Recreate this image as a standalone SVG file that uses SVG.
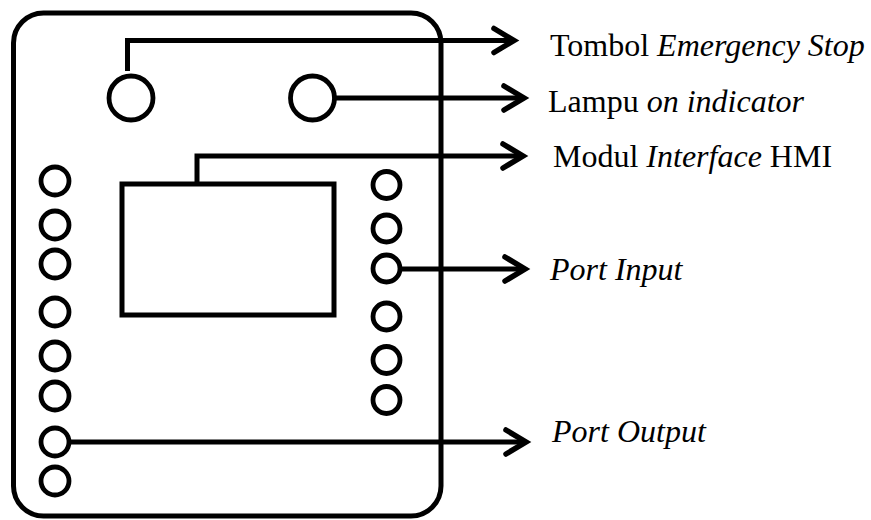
<svg xmlns="http://www.w3.org/2000/svg" width="871" height="520" viewBox="0 0 871 520">
  <style>
    .ink { fill: none; stroke: #000; stroke-width: 5; }
    .pin { fill: #fff; stroke: #000; stroke-width: 4.8; }
    .wire { fill: none; stroke: #000; stroke-width: 5; marker-end: url(#chev); }
    .lbl { font-family: "Liberation Serif", "Times New Roman", Tinos, "DejaVu Serif", "Noto Serif", serif; font-size: 32px; fill: #000; }
    .it { font-style: italic; }
  </style>
  <defs>
    <marker id="chev" markerUnits="userSpaceOnUse" markerWidth="40" markerHeight="40" viewBox="-30 -20 40 40" refX="0" refY="0" orient="auto" overflow="visible">
      <path d="M-20,-12 L0,0 L-20,12" fill="none" stroke="#000" stroke-width="5.5" stroke-linecap="round" stroke-linejoin="miter"/>
    </marker>
  </defs>
  <rect width="871" height="520" fill="#fff"/>

  <!-- panel body -->
  <g id="panel">
    <rect class="ink" x="13.5" y="13" width="427.5" height="503" rx="30" ry="30"/>
  </g>

  <!-- connectors -->
  <g id="connectors">
    <path class="wire" d="M127.5,71 V40.5 H514"/>
    <path class="wire" d="M334,98 H524"/>
    <path class="wire" d="M197,184 V156 H523"/>
    <path class="wire" d="M400,269 H525"/>
    <path class="wire" d="M69,442 H526"/>
  </g>

  <g id="emergency-stop">
    <circle class="pin" cx="131" cy="98" r="22"/>
  </g>
  <g id="indicator-lamp">
    <circle class="pin" cx="312.5" cy="98" r="22"/>
  </g>
  <g id="hmi-module">
    <rect class="ink" x="122" y="184" width="212" height="131"/>
  </g>

  <g id="output-ports">
    <circle class="pin" cx="55" cy="181" r="14"/>
    <circle class="pin" cx="55" cy="225" r="14"/>
    <circle class="pin" cx="55" cy="264" r="14"/>
    <circle class="pin" cx="55" cy="312" r="14"/>
    <circle class="pin" cx="55" cy="356" r="14"/>
    <circle class="pin" cx="55" cy="396" r="14"/>
    <circle class="pin" cx="55" cy="442" r="14"/>
    <circle class="pin" cx="55" cy="481" r="14"/>
  </g>

  <g id="input-ports">
    <circle class="pin" cx="386.5" cy="185" r="13.5"/>
    <circle class="pin" cx="386.5" cy="228.5" r="13.5"/>
    <circle class="pin" cx="386.5" cy="268.5" r="13.5"/>
    <circle class="pin" cx="386.5" cy="316.5" r="13.5"/>
    <circle class="pin" cx="386.5" cy="360" r="13.5"/>
    <circle class="pin" cx="386.5" cy="400" r="13.5"/>
  </g>

  <g id="labels">
    <text class="lbl" x="550" y="56">Tombol <tspan class="it">Emergency Stop</tspan></text>
    <text class="lbl" x="548" y="112">Lampu <tspan class="it">on indicator</tspan></text>
    <text class="lbl" x="553" y="167">Modul <tspan class="it">Interface</tspan> HMI</text>
    <text class="lbl it" x="550" y="280">Port Input</text>
    <text class="lbl it" x="552" y="442">Port Output</text>
  </g>
</svg>
